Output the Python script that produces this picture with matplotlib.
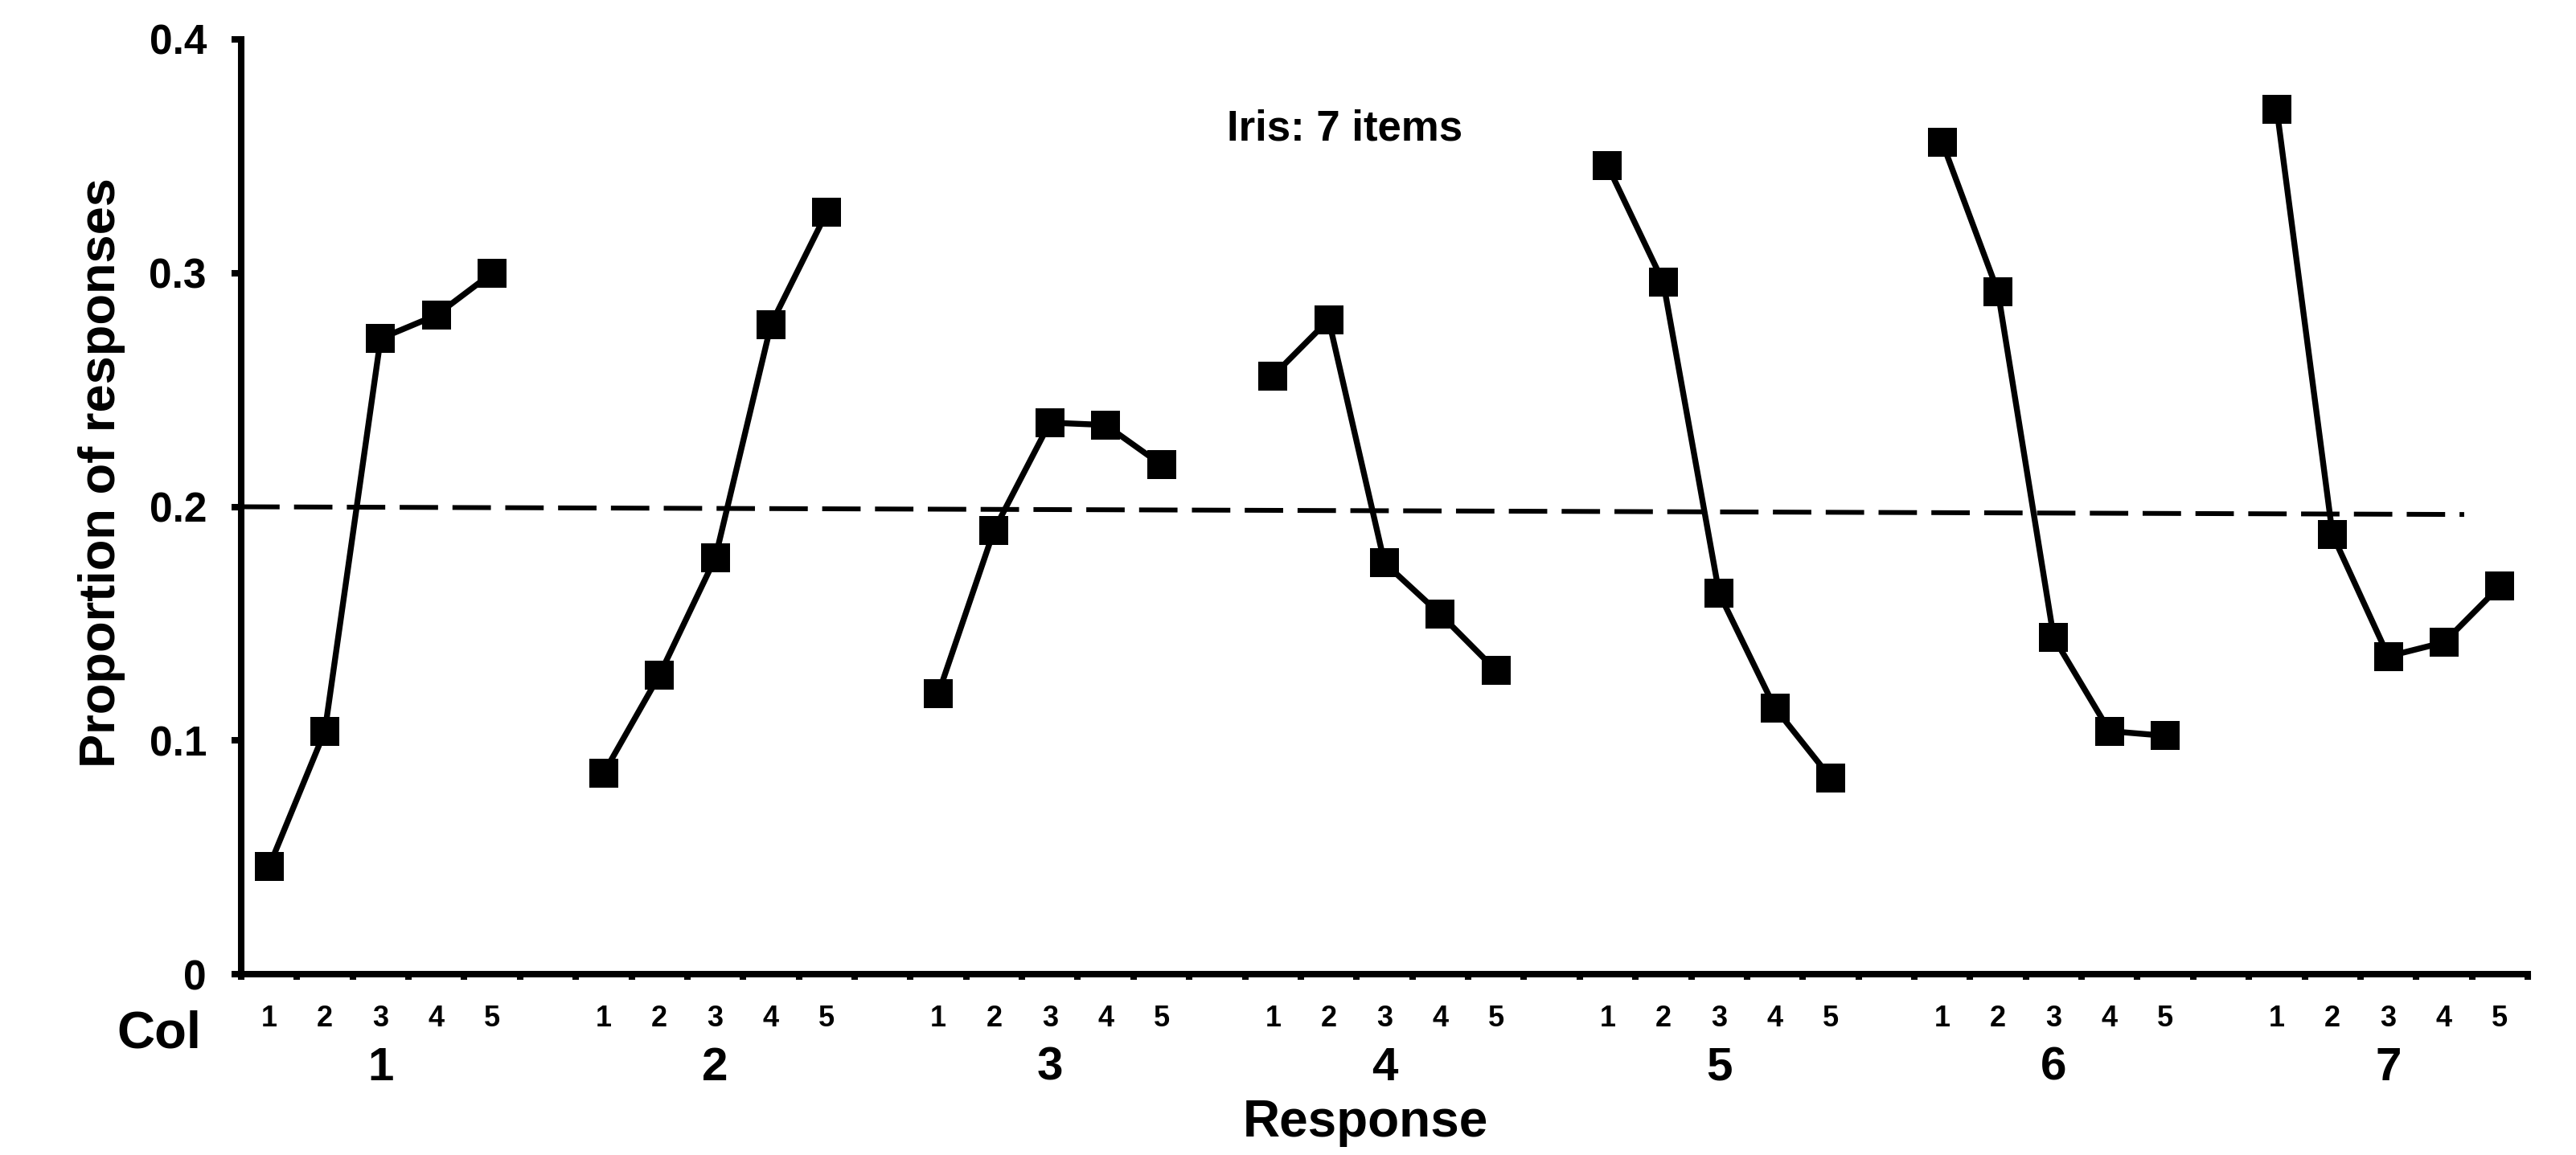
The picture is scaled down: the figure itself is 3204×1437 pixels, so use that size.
import matplotlib
matplotlib.use("Agg")
import matplotlib.pyplot as plt
from matplotlib import font_manager as fm
from matplotlib.transforms import blended_transform_factory

# ---- data ----
groups = ["1", "2", "3", "4", "5", "6", "7"]
responses = ["1", "2", "3", "4", "5"]
col1 = [0.046, 0.104, 0.272, 0.282, 0.300]
col2 = [0.086, 0.128, 0.178, 0.278, 0.326]
col3 = [0.120, 0.190, 0.236, 0.235, 0.218]
col4 = [0.256, 0.280, 0.176, 0.154, 0.130]
col5 = [0.346, 0.296, 0.163, 0.114, 0.084]
col6 = [0.356, 0.292, 0.144, 0.104, 0.102]
col7 = [0.370, 0.188, 0.136, 0.142, 0.166]
series = [col1, col2, col3, col4, col5, col6, col7]
chance_start, chance_end = 0.200, 0.1967
title = "Iris: 7 items"

names = {f.name for f in fm.fontManager.ttflist}
narrow = "Liberation Sans Narrow" if "Liberation Sans Narrow" in names else "Liberation Sans"
wide = "Liberation Sans"

W, H = 3204, 1437
fig = plt.figure(figsize=(W / 100, H / 100), dpi=100)
ax = fig.add_axes([300 / W, 1 - 1212 / H, (3144 - 300) / W, (1212 - 49) / H])

n_per = len(responses)
step = n_per + 1
ncells = len(groups) * step - 1

for g, vals in enumerate(series):
    xs = [g * step + i + 0.5 for i in range(n_per)]
    ax.plot(xs, vals, color="black", lw=5.3, marker="s", ms=26.5,
            markerfacecolor="black", markeredgecolor="black", markeredgewidth=0,
            solid_joinstyle="miter", zorder=3)

ax.plot([0, 39.86], [chance_start, chance_end], color="black", lw=4.3,
        dashes=(8, 3), dash_capstyle="butt", zorder=2)

ax.set_xlim(0, ncells)
ax.set_ylim(0, 0.4)
for s in ["top", "right"]:
    ax.spines[s].set_visible(False)
for s in ["left", "bottom"]:
    ax.spines[s].set_linewidth(5.8)
    ax.spines[s].set_capstyle("projecting")

ax.set_xticks(range(ncells + 1))
ax.set_xticklabels([])
ax.tick_params(axis="x", which="major", direction="out", length=5, width=5.8)
ax.set_yticks([0, 0.1, 0.2, 0.3, 0.4])
ax.set_yticklabels(["0", "0.1", "0.2", "0.3", "0.4"])
ax.tick_params(axis="y", direction="out", length=9, width=5.8, pad=22)
for lab in ax.get_yticklabels():
    lab.set_fontfamily(narrow)
    lab.set_fontweight("bold")
    lab.set_fontsize(37)

trans = blended_transform_factory(ax.transData, fig.transFigure)
for g, gname in enumerate(groups):
    for i, r in enumerate(responses):
        ax.text(g * step + i + 0.5, 0.1183, r, transform=trans, ha="center", va="center",
                fontsize=26, fontweight="bold", family=narrow)
    ax.text(g * step + 2.5, 0.0752, gname, transform=trans, ha="center", va="center",
            fontsize=42, fontweight="bold", family=narrow)

fig.text(0.0618, 0.1044, "Col", ha="center", va="center", fontsize=47,
         fontweight="bold", family=narrow)
fig.text(0.53, 0.028, "Response", ha="center", va="center", fontsize=46,
         fontweight="bold", family=narrow)
fig.text(0.0396, 0.591, "Proportion of responses", rotation=90, ha="center",
         va="center", fontsize=45.5, fontweight="bold", family=wide)
fig.text(0.522, 0.888, title, ha="center", va="center", fontsize=38,
         fontweight="bold", family=wide)

fig.savefig("out.png", dpi=100)
